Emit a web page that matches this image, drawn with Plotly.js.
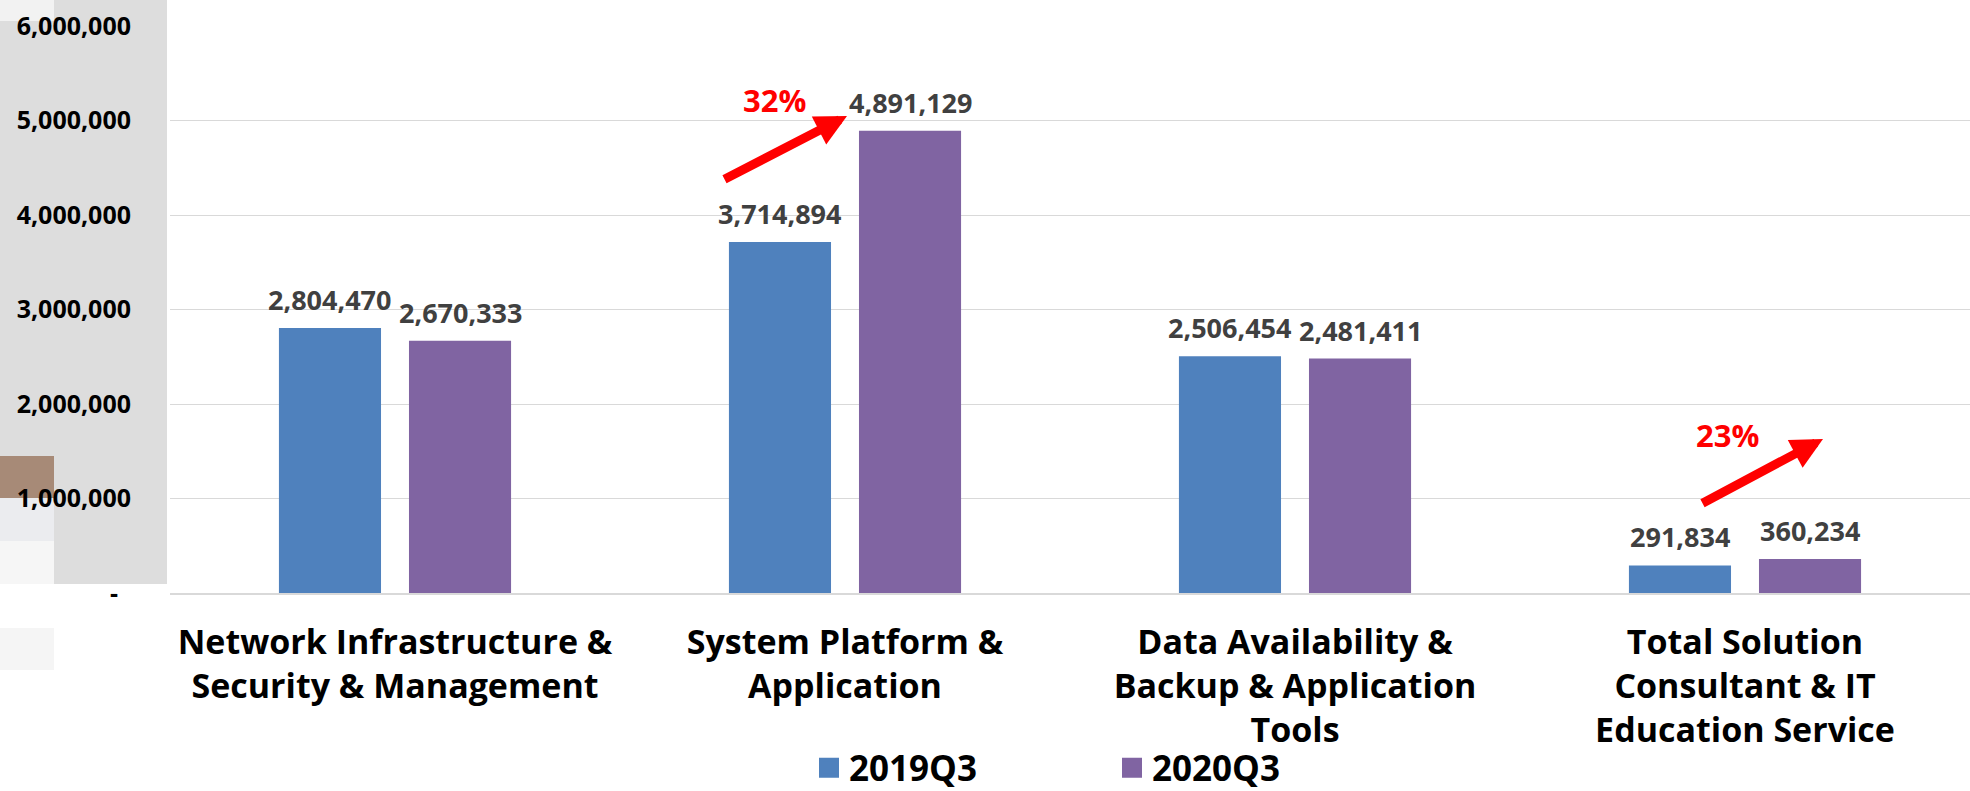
<!DOCTYPE html>
<html>
<head>
<meta charset="utf-8">
<script src="https://cdn.plot.ly/plotly-3.0.1.min.js"></script>
<style>html,body{margin:0;padding:0;background:#fff;}#chart{width:1970px;height:791px;}</style>
</head>
<body>
<div id="chart"></div>
<script>
const categories = [
  'Network Infrastructure &<br>Security & Management',
  'System Platform &<br>Application',
  'Data Availability &<br>Backup & Application<br>Tools',
  'Total Solution<br>Consultant & IT<br>Education Service'
];
const seriesNames = ['2019Q3', '2020Q3'];
const values2019 = [2804470, 3714894, 2506454, 291834];
const values2020 = [2670333, 4891129, 2481411, 360234];
const yTickVals = [0, 1000000, 2000000, 3000000, 4000000, 5000000, 6000000];
const yTickText = ['-\u00a0\u00a0', '1,000,000', '2,000,000', '3,000,000', '4,000,000', '5,000,000', '6,000,000'];
const growthLabels = ['32%', '23%'];

const W = 1970, H = 791;
const M = {l: 170, r: 0, t: 26, b: 198, autoexpand: false};
const PW = W - M.l - M.r, PH = H - M.t - M.b;
const px = x => (x - M.l) / PW;
const py = y => (H - M.b - y) / PH;
const BARGAP = 0.422, BARGROUPGAP = 0.215;

const FONT = 'Open Sans, Liberation Sans, Arial, sans-serif';
const blue = '#4F81BD', purple = '#8064A2';

const labelFont = {family: FONT, size: 27, color: '#404040', weight: 700};

const traces = [
  {type: 'bar', name: seriesNames[0], x: categories, y: values2019, marker: {color: blue},
   showlegend: false, hoverinfo: 'skip'},
  {type: 'bar', name: seriesNames[1], x: categories, y: values2020, marker: {color: purple},
   showlegend: false, hoverinfo: 'skip'},
  {type: 'scatter', mode: 'markers', name: seriesNames[0], x: [null], y: [null],
   marker: {symbol: 'square', size: 16, color: blue, line: {color: blue, width: 4}}, showlegend: true},
  {type: 'scatter', mode: 'markers', name: seriesNames[1], x: [null], y: [null],
   marker: {symbol: 'square', size: 16, color: purple, line: {color: purple, width: 4}}, showlegend: true}
];

// value labels placed above each bar (offset = half of a bar slot within its group)
const slot = PW / categories.length * (1 - BARGAP) / 2;
const valueLabels = [];
[values2019, values2020].forEach((vals, s) => {
  vals.forEach((v, i) => {
    valueLabels.push({
      xref: 'x', yref: 'y', x: categories[i], y: v,
      xshift: (s === 0 ? -1 : 1) * slot / 2, yshift: 8,
      xanchor: 'center', yanchor: 'bottom', showarrow: false,
      text: v.toLocaleString('en-US'), font: labelFont
    });
  });
});

const rect = (x0, x1, y0, y1, color) => ({
  type: 'rect', xref: 'paper', yref: 'paper', layer: 'below',
  x0: px(x0), x1: px(x1), y0: py(y1), y1: py(y0),
  fillcolor: color, line: {width: 0}
});

const arrow = (hx, hy, tx, ty) => ({
  xref: 'paper', yref: 'paper', x: px(hx), y: py(hy),
  axref: 'pixel', ayref: 'pixel', ax: tx - hx, ay: ty - hy,
  showarrow: true, arrowhead: 2, arrowsize: 0.7, arrowwidth: 9, arrowcolor: '#FF0000',
  standoff: 0, startstandoff: 0, text: ''
});
const pct = (cx, cy, txt) => ({
  xref: 'paper', yref: 'paper', x: px(cx), y: py(cy), xanchor: 'center', yanchor: 'middle',
  showarrow: false, text: txt, font: {family: FONT, size: 31, color: '#FF0000', weight: 700}
});

const layout = {
  width: W, height: H,
  margin: M,
  paper_bgcolor: '#FFFFFF', plot_bgcolor: '#FFFFFF',
  barmode: 'group', bargap: BARGAP, bargroupgap: BARGROUPGAP,
  font: {family: FONT, color: '#000000'},
  xaxis: {
    type: 'category', showgrid: false, zeroline: false, automargin: false,
    showline: true, linecolor: '#D9D9D9', linewidth: 2,
    ticks: '', ticklabelstandoff: 18,
    tickfont: {family: FONT, size: 34, color: '#000000', weight: 700}
  },
  yaxis: {
    range: [0, 6000000], tickvals: yTickVals, ticktext: yTickText, automargin: false,
    showgrid: true, gridcolor: '#D9D9D9', gridwidth: 1, zeroline: false, showline: false,
    ticks: '', ticklabelstandoff: 38,
    tickfont: {family: FONT, size: 25, color: '#000000', weight: 700}
  },
  showlegend: true,
  legend: {
    orientation: 'h', x: px(809), xanchor: 'left', y: py(768), yanchor: 'middle',
    entrywidth: 258, entrywidthmode: 'pixels', itemclick: false,
    font: {family: FONT, size: 35, color: '#000000', weight: 700},
    bgcolor: 'rgba(0,0,0,0)'
  },
  shapes: [
    rect(0, 167, 0, 584, '#DDDDDD'),
    rect(0, 54, 0, 21, '#F2F2F2'),
    rect(0, 54, 456, 498, '#A78A77'),
    rect(0, 54, 498, 541, '#EBECEF'),
    rect(0, 54, 541, 584, '#F6F6F6'),
    rect(0, 54, 628, 670, '#F5F5F5')
  ],
  annotations: valueLabels.concat([
    arrow(847, 116, 723, 180),
    pct(774, 100, growthLabels[0]),
    arrow(1823, 439, 1701, 504),
    pct(1727, 435, growthLabels[1])
  ])
};

Plotly.newPlot('chart', traces, layout, {staticPlot: true, displayModeBar: false});
</script>
</body>
</html>
